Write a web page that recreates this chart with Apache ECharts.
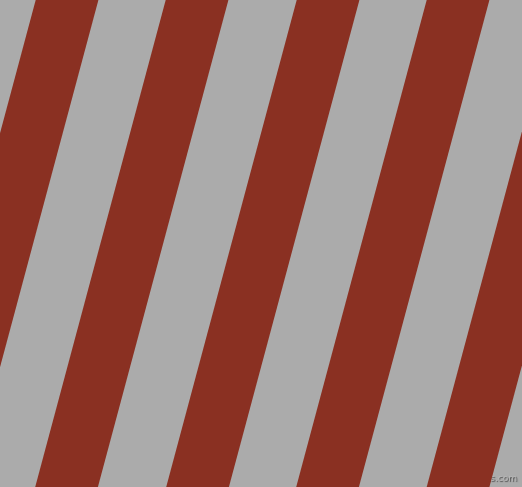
<!DOCTYPE html>
<html><head><meta charset="utf-8">
<script src="https://cdn.jsdelivr.net/npm/echarts@6/dist/echarts.min.js"></script>
<style>html,body{margin:0;padding:0;background:#ababab}#c{width:522px;height:487px}</style>
</head><body><div id="c"></div>
<script>
// Stripe left edges at top (y=0) and at bottom (y=487), in px units of the axes
const stripeTopX = [-95, 35.7, 165.7, 296.7, 426.7, 557.2];
const stripeBottomX = [-225.5, -94.8, 35.2, 166.2, 296.2, 426.7];
const stripeWidth = [62.7, 62.7, 62.7, 62.7, 62.7, 62.7];
const chart = echarts.init(document.getElementById('c'), null, {renderer:'canvas'});
const data = stripeTopX.map((t,i)=>[t, stripeBottomX[i], stripeWidth[i]]);
chart.setOption({
  backgroundColor:'#ababab',
  animation:false,
  grid:{left:0,right:0,top:0,bottom:0},
  xAxis:{type:'value',min:0,max:522,show:false},
  yAxis:{type:'value',min:0,max:487,inverse:true,show:false},
  series:[{
    type:'custom',
    clip:true,
    data:data,
    renderItem:function(params,api){
      const t=api.value(0), b=api.value(1), w=api.value(2);
      const p1=api.coord([t,0]), p2=api.coord([t+w,0]), p3=api.coord([b+w,487]), p4=api.coord([b,487]);
      return {type:'polygon',shape:{points:[p1,p2,p3,p4]},style:{fill:'#8a3022'}};
    }
  }],
  graphic:[{type:'text',right:5,bottom:4,style:{text:'pixlis.com',fill:'#b8b8b8',font:'9px DejaVu Sans',textShadowColor:'rgba(0,0,0,0.6)',textShadowOffsetX:1,textShadowOffsetY:1,textShadowBlur:1}}]
});
</script></body></html>
